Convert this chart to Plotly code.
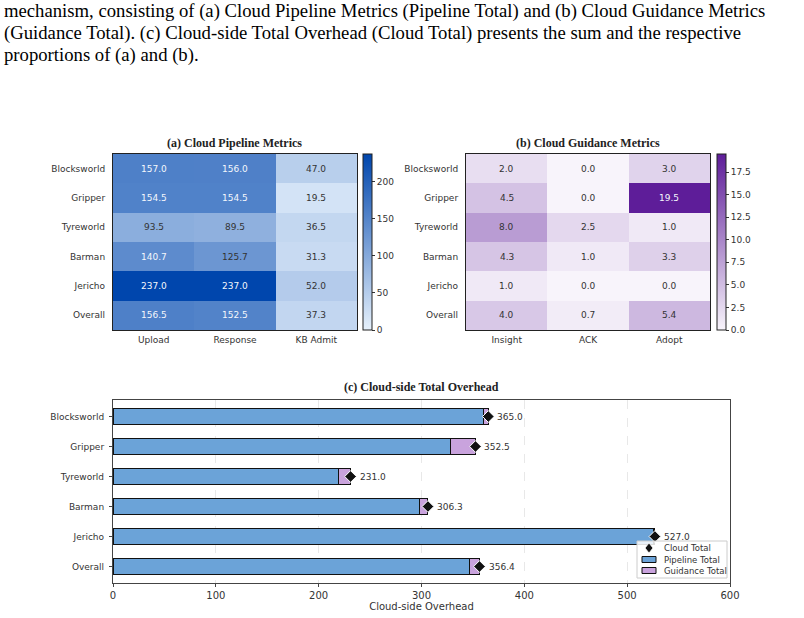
import plotly.graph_objects as go

# ---------------- data ----------------
domains = ["Blocksworld", "Gripper", "Tyreworld", "Barman", "Jericho", "Overall"]
pipe_cols = ["Upload", "Response", "KB Admit"]
upload = [157.0, 154.5, 93.5, 140.7, 237.0, 156.5]
response = [156.0, 154.5, 89.5, 125.7, 237.0, 152.5]
kb_admit = [47.0, 19.5, 36.5, 31.3, 52.0, 37.3]

guide_cols = ["Insight", "ACK", "Adopt"]
insight = [2.0, 4.5, 8.0, 4.3, 1.0, 4.0]
ack = [0.0, 0.0, 2.5, 1.0, 0.0, 0.7]
adopt = [3.0, 19.5, 1.0, 3.3, 0.0, 5.4]

pipe_ticks = [0, 50, 100, 150, 200]
guide_ticks = [0.0, 2.5, 5.0, 7.5, 10.0, 12.5, 15.0, 17.5]
bar_ticks = [0, 100, 200, 300, 400, 500, 600]
legend_names = ["Cloud Total", "Pipeline Total", "Guidance Total"]

caption_lines = [
    "mechanism, consisting of (a) Cloud Pipeline Metrics (Pipeline Total) and (b) Cloud Guidance Metrics",
    "(Guidance Total). (c) Cloud-side Total Overhead (Cloud Total) presents the sum and the respective",
    "proportions of (a) and (b).",
]

# derived
pipe_z = [[u, r, k] for u, r, k in zip(upload, response, kb_admit)]
guide_z = [[i, a, d] for i, a, d in zip(insight, ack, adopt)]
pipe_total = [u + r + k for u, r, k in zip(upload, response, kb_admit)]
guide_total = [i + a + d for i, a, d in zip(insight, ack, adopt)]
cloud_total = [p + g for p, g in zip(pipe_total, guide_total)]

W, H = 804, 618
def px(x): return x / W
def py(y): return 1 - y / H

SANS = "DejaVu Sans"
SERIF = "Liberation Serif"
TXT = "#333333"
PIPE_C = "#6ba3d8"
GUIDE_C = "#c9a3dd"

blues = [[0, "#e6f1fc"], [1, "#0046ad"]]
purples = [[0, "#f8f4fb"], [1, "#5e1d99"]]

fig = go.Figure()

cb_common = dict(y=(py(154) + py(330)) / 2, yanchor="middle",
                 len=(330 - 154) / H, lenmode="fraction", thickness=9,
                 outlinewidth=1, outlinecolor="#222", ticks="outside", ticklen=3,
                 tickcolor="#333", tickfont=dict(family=SANS, size=9, color=TXT),
                 xpad=0, ypad=0, xanchor="left")

pmax = max(max(r) for r in pipe_z)
fig.add_trace(go.Heatmap(
    z=pipe_z, x=pipe_cols, y=domains, colorscale=blues, zmin=0, zmax=pmax,
    xaxis="x", yaxis="y", hoverinfo="skip",
    colorbar=dict(x=px(363), tickvals=pipe_ticks, **cb_common)))

gmax = max(max(r) for r in guide_z)
fig.add_trace(go.Heatmap(
    z=guide_z, x=guide_cols, y=domains, colorscale=purples, zmin=0, zmax=gmax,
    xaxis="x2", yaxis="y2", hoverinfo="skip",
    colorbar=dict(x=px(717), tickvals=guide_ticks,
                  ticktext=[f"{t:.1f}" for t in guide_ticks], **cb_common)))

annotations = []
for z, cols, xr, yr, zmax in [(pipe_z, pipe_cols, "x", "y", pmax),
                              (guide_z, guide_cols, "x2", "y2", gmax)]:
    for i, d in enumerate(domains):
        for j, c in enumerate(cols):
            v = z[i][j]
            annotations.append(dict(
                x=c, y=d, xref=xr, yref=yr, text=f"{v:.1f}", showarrow=False,
                font=dict(family=SANS, size=9,
                          color="#f4f7fc" if v > 0.56 * zmax else TXT)))

# bar chart (c)
fig.add_trace(go.Bar(
    x=pipe_total, y=domains, orientation="h", name=legend_names[1], width=0.55,
    marker=dict(color=PIPE_C, line=dict(color="#111", width=1)),
    xaxis="x3", yaxis="y3", hoverinfo="skip", showlegend=False))
fig.add_trace(go.Bar(
    x=guide_total, y=domains, orientation="h", name=legend_names[2], width=0.55,
    base=pipe_total,
    marker=dict(color=GUIDE_C, line=dict(color="#111", width=1)),
    xaxis="x3", yaxis="y3", hoverinfo="skip", showlegend=False))
fig.add_trace(go.Scatter(
    x=cloud_total, y=domains, mode="markers", name=legend_names[0],
    marker=dict(symbol="diamond", size=9, color="#111", line=dict(color="white", width=1)),
    xaxis="x3", yaxis="y3", hoverinfo="skip", showlegend=False))
for v, d in zip(cloud_total, domains):
    annotations.append(dict(x=v, y=d, xref="x3", yref="y3", text=f"{v:.1f}",
                            showarrow=False, xanchor="left", yanchor="middle", xshift=7,
                            font=dict(family=SANS, size=9, color=TXT)))

# legend (drawn compactly, matching the reference box)
shapes = [
    dict(type="rect", xref="paper", yref="paper", x0=px(637), x1=px(727), y0=py(578), y1=py(541),
         line=dict(color="#cccccc", width=1), fillcolor="rgba(255,255,255,0.85)", layer="above"),
]
dcx, dcy = 649, 548
shapes.append(dict(type="path", xref="paper", yref="paper", layer="above",
                   path=f"M {px(dcx-4)} {py(dcy)} L {px(dcx)} {py(dcy-5)} L {px(dcx+4)} {py(dcy)} L {px(dcx)} {py(dcy+5)} Z",
                   fillcolor="#111", line=dict(color="white", width=0.8)))
for col, yc in [(PIPE_C, 559.5), (GUIDE_C, 570.5)]:
    shapes.append(dict(type="rect", xref="paper", yref="paper", layer="above",
                       x0=px(642), x1=px(656), y0=py(yc + 3), y1=py(yc - 3),
                       fillcolor=col, line=dict(color="#111", width=1)))
for name, yc in zip(legend_names, [548, 559.5, 570.5]):
    annotations.append(dict(text=name, x=px(662), y=py(yc), xref="paper", yref="paper",
                            showarrow=False, xanchor="left", yanchor="middle",
                            font=dict(family=SANS, size=8.5, color=TXT)))

# titles
titles = [("(a) Cloud Pipeline Metrics", 235, 143),
          ("(b) Cloud Guidance Metrics", 588, 143),
          ("(c) Cloud-side Total Overhead", 421, 387)]
for t, x, y in titles:
    annotations.append(dict(text=f"<b>{t}</b>", x=px(x), y=py(y), xref="paper", yref="paper",
                            showarrow=False, xanchor="center", yanchor="middle",
                            font=dict(family=SERIF, size=12, color="#222")))
for k, line in enumerate(caption_lines):
    annotations.append(dict(text=line, x=px(2), y=py(11 + 22 * k), xref="paper", yref="paper",
                            showarrow=False, xanchor="left", yanchor="middle",
                            font=dict(family=SERIF, size=18.7, color="black")))

hm_base = dict(showline=True, linecolor="#222", linewidth=1.2, mirror=True,
               ticks="", automargin=False, showgrid=False, zeroline=False,
               tickfont=dict(family=SANS, size=9, color=TXT))
hm_x = dict(ticklabelstandoff=1, **hm_base)
hm_y = dict(ticklabelstandoff=5, autorange="reversed", **hm_base)

fig.update_layout(
    width=W, height=H, margin=dict(l=0, r=0, t=0, b=0, autoexpand=False),
    paper_bgcolor="white", plot_bgcolor="white",
    barmode="stack", showlegend=False,
    xaxis=dict(domain=[px(113), px(357)], anchor="y", **hm_x),
    yaxis=dict(domain=[py(330), py(154)], anchor="x", **hm_y),
    xaxis2=dict(domain=[px(466), px(710)], anchor="y2", **hm_x),
    yaxis2=dict(domain=[py(330), py(154)], anchor="x2", **hm_y),
    xaxis3=dict(domain=[px(113), px(730)], anchor="y3", range=[0, 600], tickvals=bar_ticks,
                showline=True, linecolor="#444", linewidth=1.2, mirror=True, automargin=False,
                ticks="outside", ticklen=3, tickcolor="#444",
                showgrid=True, gridcolor="#e8e8e8", griddash="dash", gridwidth=0.8, zeroline=False,
                tickfont=dict(family=SANS, size=10, color=TXT),
                title=dict(text="Cloud-side Overhead", font=dict(family=SANS, size=10, color=TXT), standoff=2)),
    yaxis3=dict(domain=[py(583), py(400)], anchor="x3", range=[5.55, -0.55],
                showline=True, linecolor="#444", linewidth=1.2, mirror=True, automargin=False,
                ticks="outside", ticklen=3, tickcolor="#444", showgrid=False, zeroline=False,
                ticklabelstandoff=3,
                tickfont=dict(family=SANS, size=9, color=TXT)),
    annotations=annotations,
    shapes=shapes,
)

fig.write_html("out.html")
